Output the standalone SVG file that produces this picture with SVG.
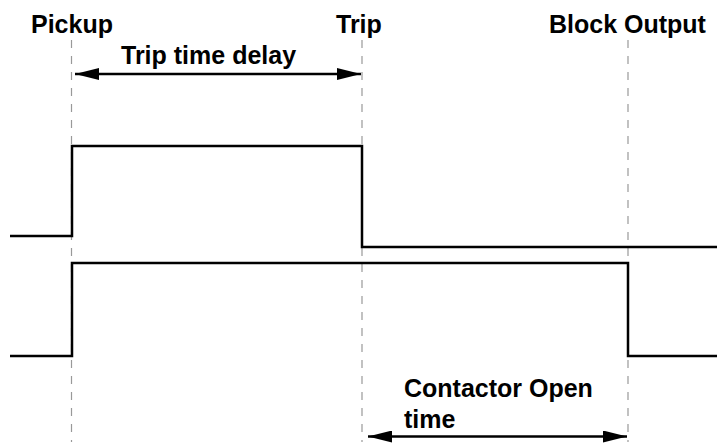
<svg xmlns="http://www.w3.org/2000/svg" width="717" height="445" viewBox="0 0 717 445">
<style>
.lbl{font-family:"Liberation Sans",Arial,sans-serif;font-weight:bold;font-size:25px;fill:#000}
.guide{stroke:#999;stroke-width:1.2;stroke-dasharray:8,8;fill:none}
.sig{stroke:#000;stroke-width:2.5;fill:none}
.dim{stroke:#000;stroke-width:2.5;fill:none;marker-start:url(#ah);marker-end:url(#ah)}
</style>
<defs>
<marker id="ah" viewBox="0 0 24 12" refX="24" refY="6" markerWidth="24" markerHeight="12" markerUnits="userSpaceOnUse" orient="auto-start-reverse">
<path d="M0,0 L24,6 L0,12 Z" fill="#000"/>
</marker>
</defs>
<g id="guides">
<line class="guide" x1="71.5" y1="40" x2="71.5" y2="442"/>
<line class="guide" x1="362" y1="40" x2="362" y2="442"/>
<line class="guide" x1="628" y1="40" x2="628" y2="442"/>
</g>
<g id="signal-top"><path class="sig" d="M10,236 H72 V146 H362 V247 H717"/></g>
<g id="signal-bottom"><path class="sig" d="M10,356 H72 V263 H628 V356 H717"/></g>
<g id="connectors">
<line class="dim" x1="75" y1="74" x2="361" y2="74"/>
<line class="dim" x1="368" y1="436.5" x2="627" y2="436.5"/>
</g>
<g id="label-pickup"><text class="lbl" x="31" y="33">Pickup</text></g>
<g id="label-trip"><text class="lbl" x="336" y="33">Trip</text></g>
<g id="label-block"><text class="lbl" x="549" y="33">Block Output</text></g>
<g id="label-delay"><text class="lbl" x="121" y="64">Trip time delay</text></g>
<g id="label-contactor"><text class="lbl" x="404" y="397">Contactor Open</text><text class="lbl" x="404" y="428">time</text></g>
</svg>
